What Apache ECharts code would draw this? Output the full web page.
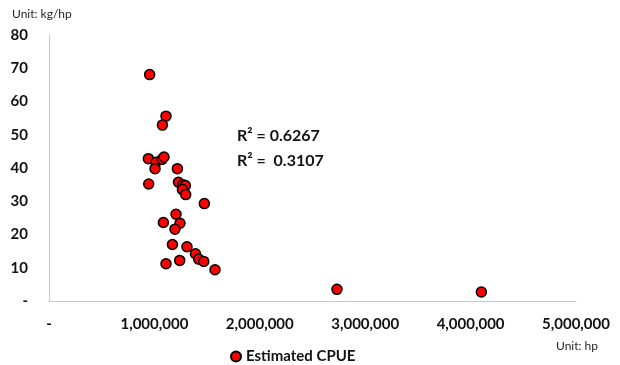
<!DOCTYPE html>
<html>
<head>
<meta charset="utf-8">
<script src="https://cdn.jsdelivr.net/npm/echarts@6/dist/echarts.min.js"></script>
<style>
html,body{margin:0;padding:0;background:#fff;}
#c{width:620px;height:365px;}
</style>
</head>
<body>
<div id="c"></div>
<script>
// Data (horsepower, kg/hp)
const hpValues = [
  955000, 1110000, 1076000, 943000, 1015000, 1006000, 1072000, 1091000, 1218000, 946000,
  1228000, 1271000, 1294000, 1266000, 1297000, 1474000, 1205000, 1085000, 1243000, 1195000,
  1171000, 1309000, 1389000, 1420000, 1468000, 1110000, 1240000, 1575000, 2732000, 4102000
];
const cpueValues = [
  68.1, 55.6, 52.9, 42.8, 41.7, 39.8, 42.6, 43.3, 39.8, 35.2,
  35.7, 35.0, 34.7, 33.5, 32.0, 29.3, 26.1, 23.6, 23.4, 21.6,
  17.0, 16.3, 14.2, 12.6, 11.9, 11.2, 12.2, 9.4, 3.5, 2.7
];
const seriesName = 'Estimated CPUE';
const r2Labels = ['R\u00B2 = 0.6267', 'R\u00B2 =  0.3107'];
const yUnit = 'Unit: kg/hp';
const xUnit = 'Unit: hp';

const points = hpValues.map((x, i) => [x, cpueValues[i]]);
const font = 'Lato, "Open Sans", "Liberation Sans", sans-serif';

const chart = echarts.init(document.getElementById('c'), null, {renderer: 'canvas'});
chart.setOption({
  animation: false,
  backgroundColor: '#ffffff',
  textStyle: {fontFamily: font},
  grid: {left: 49, right: 44, top: 35, bottom: 64, containLabel: false},
  xAxis: {
    type: 'value', min: 0, max: 5000000, interval: 1000000,
    axisLine: {show: true, lineStyle: {color: '#c8c8c8', width: 1}},
    axisTick: {show: false},
    splitLine: {show: false},
    axisLabel: {
      margin: 16, fontSize: 15, fontWeight: 'bold', color: '#111', fontFamily: font,
      formatter: v => v === 0 ? '-' : v.toLocaleString('en-US')
    }
  },
  yAxis: {
    type: 'value', min: 0, max: 80, interval: 10,
    axisLine: {show: true, lineStyle: {color: '#c8c8c8', width: 1}},
    axisTick: {show: false},
    splitLine: {show: false},
    axisLabel: {
      margin: 21, fontSize: 15, fontWeight: 'bold', color: '#111', fontFamily: font,
      formatter: v => v === 0 ? '-' : String(v)
    }
  },
  legend: {
    data: [seriesName], left: 225, top: 344, icon: 'circle', itemWidth: 10, itemHeight: 10, itemGap: 6,
    textStyle: {fontSize: 15, fontWeight: 'bold', color: '#111', fontFamily: font}
  },
  graphic: [
    {type: 'text', left: 12, top: 8, style: {text: yUnit, fontSize: 12, fill: '#262626', fontFamily: font}},
    {type: 'text', left: 556, top: 340, style: {text: xUnit, fontSize: 12, fill: '#262626', fontFamily: font}},
    {type: 'text', left: 237, top: 128, style: {text: r2Labels[0], fontSize: 16, fontWeight: 'bold', fill: '#111', fontFamily: font}},
    {type: 'text', left: 237, top: 153, style: {text: r2Labels[1], fontSize: 16, fontWeight: 'bold', fill: '#111', fontFamily: font}}
  ],
  series: [{
    name: seriesName, type: 'scatter', data: points, symbol: 'circle', symbolSize: 10,
    itemStyle: {color: '#ff0000', borderColor: '#000', borderWidth: 1.5, opacity: 1}
  }]
});
</script>
</body>
</html>
